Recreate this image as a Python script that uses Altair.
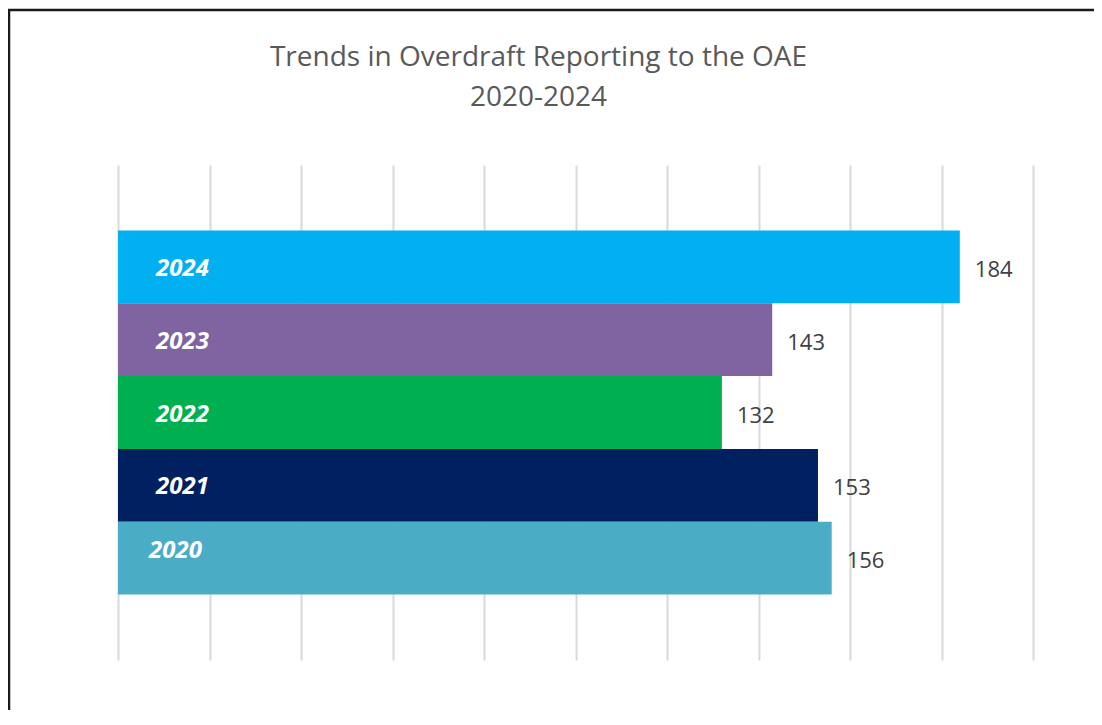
import altair as alt
import pandas as pd

years = ["2024", "2023", "2022", "2021", "2020"]
counts = [184, 143, 132, 153, 156]
colors = ["#00B0F0", "#8064A2", "#00B050", "#002060", "#4BACC6"]
grid_values = [0, 20, 40, 60, 80, 100, 120, 140, 160, 180, 200]
title_lines = ["Trends in Overdraft Reporting to the OAE", "2020-2024"]

df = pd.DataFrame({"year": years, "count": counts})

FONT = "Open Sans"

x_scale = alt.Scale(domain=[0, 200], nice=False)
y_enc = alt.Y("year:N", sort=years, axis=None,
              scale=alt.Scale(paddingInner=0, paddingOuter=0.9))

bars = alt.Chart(df).mark_bar().encode(
    x=alt.X("count:Q", scale=x_scale,
            axis=alt.Axis(values=grid_values, labels=False, ticks=False, domain=False,
                          grid=True, gridColor="#D9D9D9", gridWidth=2, title=None)),
    y=y_enc,
    color=alt.Color("year:N", scale=alt.Scale(domain=years, range=colors), legend=None),
)

label_style = dict(align="left", baseline="middle", font=FONT, fontSize=24,
                   fontStyle="italic", fontWeight="bold", color="white")

year_labels = alt.Chart(df).transform_filter(alt.datum.year != "2020").mark_text(
    dx=38, dy=2, **label_style
).encode(x=alt.datum(0), y=y_enc, text="year:N")

year_label_last = alt.Chart(df).transform_filter(alt.datum.year == "2020").mark_text(
    dx=31, dy=-7, **label_style
).encode(x=alt.datum(0), y=y_enc, text="year:N")

value_labels = alt.Chart(df).mark_text(
    align="left", baseline="middle", dx=15, dy=3, font=FONT, fontSize=22, color="#404040"
).encode(x="count:Q", y=y_enc, text="count:Q")

frame_df = pd.DataFrame({"k": [0]})
frame_left = alt.Chart(frame_df).mark_rule(color="#1a1a1a", strokeWidth=2.5).encode(
    x=alt.value(-109), y=alt.value(-156), y2=alt.value(600))
frame_top = alt.Chart(frame_df).mark_rule(color="#1a1a1a", strokeWidth=2.5).encode(
    x=alt.value(-110), x2=alt.value(1000), y=alt.value(-155))

chart = alt.layer(bars, year_labels, year_label_last, value_labels, frame_left, frame_top).properties(
    width=915, height=495,
    autosize=alt.AutoSizeParams(type="none"),
    padding={"left": 110, "top": 157, "right": 61, "bottom": 50},
    title=alt.Title(title_lines, font=FONT, fontSize=28, fontWeight="normal",
                    color="#595959", lineHeight=40, dx=-37, offset=-104),
    background="white",
).configure_view(stroke=None)

chart.save("out.html", embed_options={"renderer": "svg", "actions": False})
